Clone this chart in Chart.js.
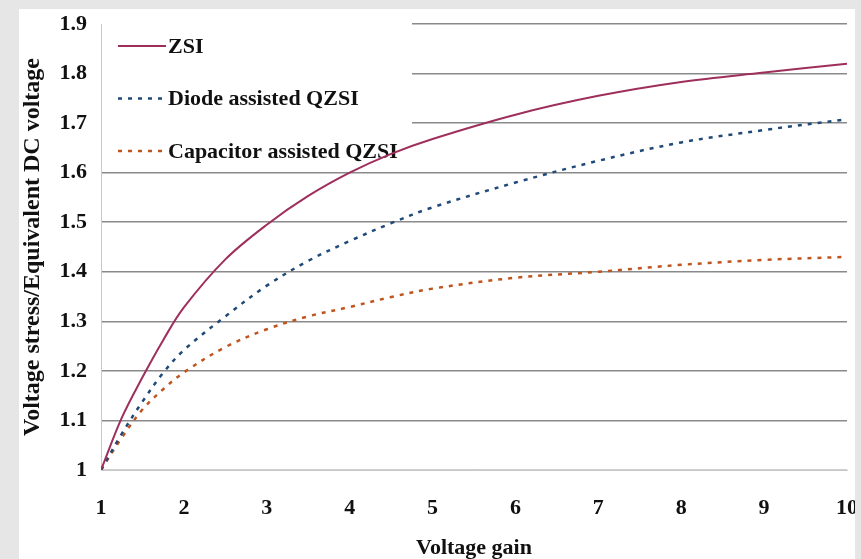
<!DOCTYPE html>
<html>
<head>
<meta charset="utf-8">
<script src="https://cdn.jsdelivr.net/npm/chart.js@4"></script>
<style>
  html, body { margin: 0; padding: 0; background: #e6e6e6; }
  #panel { position: absolute; left: 19px; top: 9px; width: 836px; height: 550px; background: #fff; }
</style>
</head>
<body>
<div id="panel"><canvas id="stressChart" width="836" height="550"></canvas></div>
<script>
// voltage gain (x) and normalised voltage stress of each topology
const gain = [1, 1.25, 1.5, 1.75, 2, 2.5, 3, 3.5, 4, 4.5, 5, 6, 7, 8, 9, 10];
const zsi = [1.0, 1.105, 1.187, 1.262, 1.328, 1.425, 1.495, 1.553, 1.60, 1.638, 1.668, 1.717, 1.755, 1.783, 1.802, 1.82];
const diodeQzsi = [1.0, 1.073, 1.138, 1.196, 1.242, 1.31, 1.372, 1.422, 1.462, 1.498, 1.53, 1.58, 1.624, 1.661, 1.686, 1.708];
const capQzsi = [1.0, 1.065, 1.122, 1.163, 1.197, 1.248, 1.284, 1.31, 1.329, 1.349, 1.366, 1.388, 1.40, 1.414, 1.424, 1.43];

const xTicks = [1, 2, 3, 4, 5, 6, 7, 8, 9, 10];
const yTicks = [1, 1.1, 1.2, 1.3, 1.4, 1.5, 1.6, 1.7, 1.8, 1.9];
const yTickLabels = ['1', '1.1', '1.2', '1.3', '1.4', '1.5', '1.6', '1.7', '1.8', '1.9'];

const serif = 'Liberation Serif';
const pts = arr => arr.map((v, i) => ({ x: gain[i], y: v }));

// legend drawn inside the plot, on a white box that hides the grid behind it
const insideLegend = {
  id: 'insideLegend',
  beforeDatasetsDraw(chart) {
    const c = chart.ctx, a = chart.chartArea;
    c.save();
    c.fillStyle = '#fff';
    c.fillRect(a.left + 1, a.top - 4, 392 - a.left, 150);
    c.font = 'bold 22px "' + serif + '"';
    c.textBaseline = 'middle';
    chart.data.datasets.forEach((ds, i) => {
      const y = a.top + 22 + i * 52.5;
      c.strokeStyle = ds.borderColor;
      c.lineWidth = ds.borderWidth;
      c.setLineDash(ds.borderDash || []);
      c.beginPath();
      c.moveTo(a.left + 17, y);
      c.lineTo(a.left + 65, y);
      c.stroke();
      c.setLineDash([]);
      c.fillStyle = '#111';
      c.fillText(ds.label, a.left + 67, y + 1);
    });
    c.restore();
  }
};

new Chart(document.getElementById('stressChart'), {
  type: 'line',
  data: {
    datasets: [{
      label: 'ZSI',
      data: pts(zsi),
      borderColor: '#9e2f5c',
      borderWidth: 2,
      pointRadius: 0,
      tension: 0.35
    }, {
      label: 'Diode assisted QZSI',
      data: pts(diodeQzsi),
      borderColor: '#1f4a78',
      borderWidth: 2.5,
      borderDash: [4, 6],
      pointRadius: 0,
      tension: 0.35
    }, {
      label: 'Capacitor assisted QZSI',
      data: pts(capQzsi),
      borderColor: '#c0541f',
      borderWidth: 2.5,
      borderDash: [4, 6],
      pointRadius: 0,
      tension: 0.35
    }]
  },
  options: {
    responsive: false,
    animation: false,
    layout: { padding: { top: 15, right: 8, left: 0, bottom: 0 } },
    plugins: { legend: { display: false }, tooltip: { enabled: false } },
    scales: {
      x: {
        type: 'linear',
        min: 1,
        max: 10,
        afterBuildTicks: s => { s.ticks = xTicks.map(v => ({ value: v })); },
        afterFit: s => { s.height = 89; s.paddingLeft = 0; s.paddingRight = 0; },
        grid: { display: false, drawTicks: false },
        border: { color: '#c8c8c8', width: 1 },
        ticks: { color: '#111', padding: 25, font: { family: serif, size: 22, weight: 'bold' } },
        title: {
          display: true,
          text: 'Voltage gain',
          color: '#111',
          padding: { top: 0, bottom: 0 },
          font: { family: serif, size: 22, weight: 'bold', lineHeight: 1 }
        }
      },
      y: {
        min: 1,
        max: 1.9,
        afterBuildTicks: s => { s.ticks = yTicks.map(v => ({ value: v })); },
        afterFit: s => { s.width = 82; s.paddingTop = 0; s.paddingBottom = 0; },
        grid: {
          drawTicks: false,
          lineWidth: 1.5,
          color: ctx => ctx.tick && ctx.tick.value === 1 ? '#cfcfcf' : '#8a8a8a'
        },
        border: { color: '#c8c8c8', width: 1 },
        ticks: {
          color: '#111',
          padding: 14,
          font: { family: serif, size: 22, weight: 'bold' },
          callback: (v, i) => yTickLabels[i]
        },
        title: {
          display: true,
          text: 'Voltage stress/Equivalent DC voltage',
          color: '#111',
          padding: { top: 2, bottom: 0 },
          font: { family: serif, size: 24, weight: 'bold', lineHeight: 1 }
        }
      }
    }
  },
  plugins: [insideLegend]
});
</script>
</body>
</html>
